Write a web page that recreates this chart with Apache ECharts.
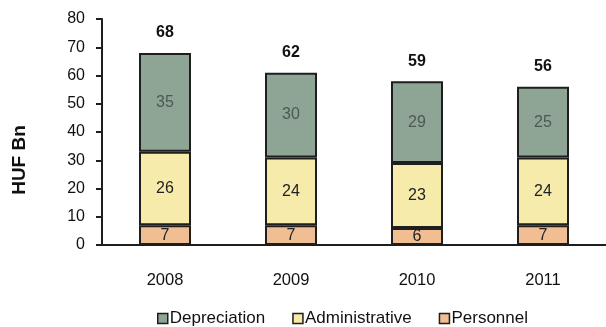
<!DOCTYPE html>
<html>
<head>
<meta charset="utf-8">
<script src="https://cdn.jsdelivr.net/npm/echarts@6/dist/echarts.min.js"></script>
<style>
  html, body { margin: 0; padding: 0; background: #fff; }
  #chart { width: 606px; height: 327px; }
</style>
</head>
<body>
<div id="chart"></div>
<script>
// Operating costs by type, HUF billion
const years = ['2008', '2009', '2010', '2011'];
const personnel = [7, 7, 6, 7];
const administrative = [26, 24, 23, 24];
const depreciation = [35, 30, 29, 25];
const totals = [68, 62, 59, 56];
const yTicks = [0, 10, 20, 30, 40, 50, 60, 70, 80];

const FONT = '"Liberation Sans", Arial, sans-serif';
const BORDER = '#1e1e1e';

function segment(name, data, color, labelColor) {
  return {
    name: name,
    type: 'bar',
    stack: 'cost',
    data: data,
    barWidth: 52,
    itemStyle: { color: color, borderColor: BORDER, borderWidth: 2 },
    label: {
      show: true,
      position: 'inside',
      color: labelColor,
      fontFamily: FONT,
      fontSize: 16
    }
  };
}

const series = [
  segment('Personnel', personnel, '#f1bd93', '#222'),
  segment('Administrative', administrative, '#f6ebaa', '#222'),
  segment('Depreciation', depreciation, '#8ea595', '#4c5a51')
];

// totals drawn above each stack
series.push({
  name: 'Total',
  type: 'bar',
  stack: 'cost',
  data: years.map(() => 0),
  barWidth: 52,
  itemStyle: { color: 'transparent' },
  label: {
    show: true,
    position: 'top',
    distance: 12,
    fontFamily: FONT,
    fontSize: 16,
    fontWeight: 'bold',
    color: '#111',
    formatter: p => totals[p.dataIndex]
  },
  tooltip: { show: false }
});

const chart = echarts.init(document.getElementById('chart'), null, { renderer: 'canvas' });
chart.setOption({
  animation: false,
  backgroundColor: '#fff',
  grid: { left: 102, right: 0, top: 19, bottom: 82 },
  legend: {
    data: ['Depreciation', 'Administrative', 'Personnel'],
    left: 152,
    top: 305,
    itemWidth: 10,
    itemHeight: 10,
    itemGap: 27,
    textStyle: { fontFamily: FONT, fontSize: 17, color: '#111', padding: [0, 0, 0, -3] },
    icon: 'rect',
    itemStyle: { borderColor: BORDER, borderWidth: 1.5 }
  },
  xAxis: {
    type: 'category',
    data: years,
    axisLine: { lineStyle: { color: BORDER, width: 2 } },
    axisTick: { show: false },
    axisLabel: { fontFamily: FONT, fontSize: 16.5, color: '#111', margin: 27 }
  },
  yAxis: {
    type: 'value',
    min: yTicks[0],
    max: yTicks[yTicks.length - 1],
    interval: yTicks[1] - yTicks[0],
    splitLine: { show: false },
    axisLine: { show: true, lineStyle: { color: BORDER, width: 2 } },
    axisTick: { show: true, length: 6, lineStyle: { color: BORDER, width: 2 } },
    axisLabel: { fontFamily: FONT, fontSize: 16, color: '#111', margin: 17 }
  },
  graphic: [{
    type: 'text',
    x: 20,
    y: 160,
    rotation: Math.PI / 2,
    style: {
      text: 'HUF Bn',
      font: 'bold 19px ' + FONT,
      fill: '#111',
      align: 'center',
      verticalAlign: 'middle'
    }
  }],
  series: series
});
</script>
</body>
</html>
